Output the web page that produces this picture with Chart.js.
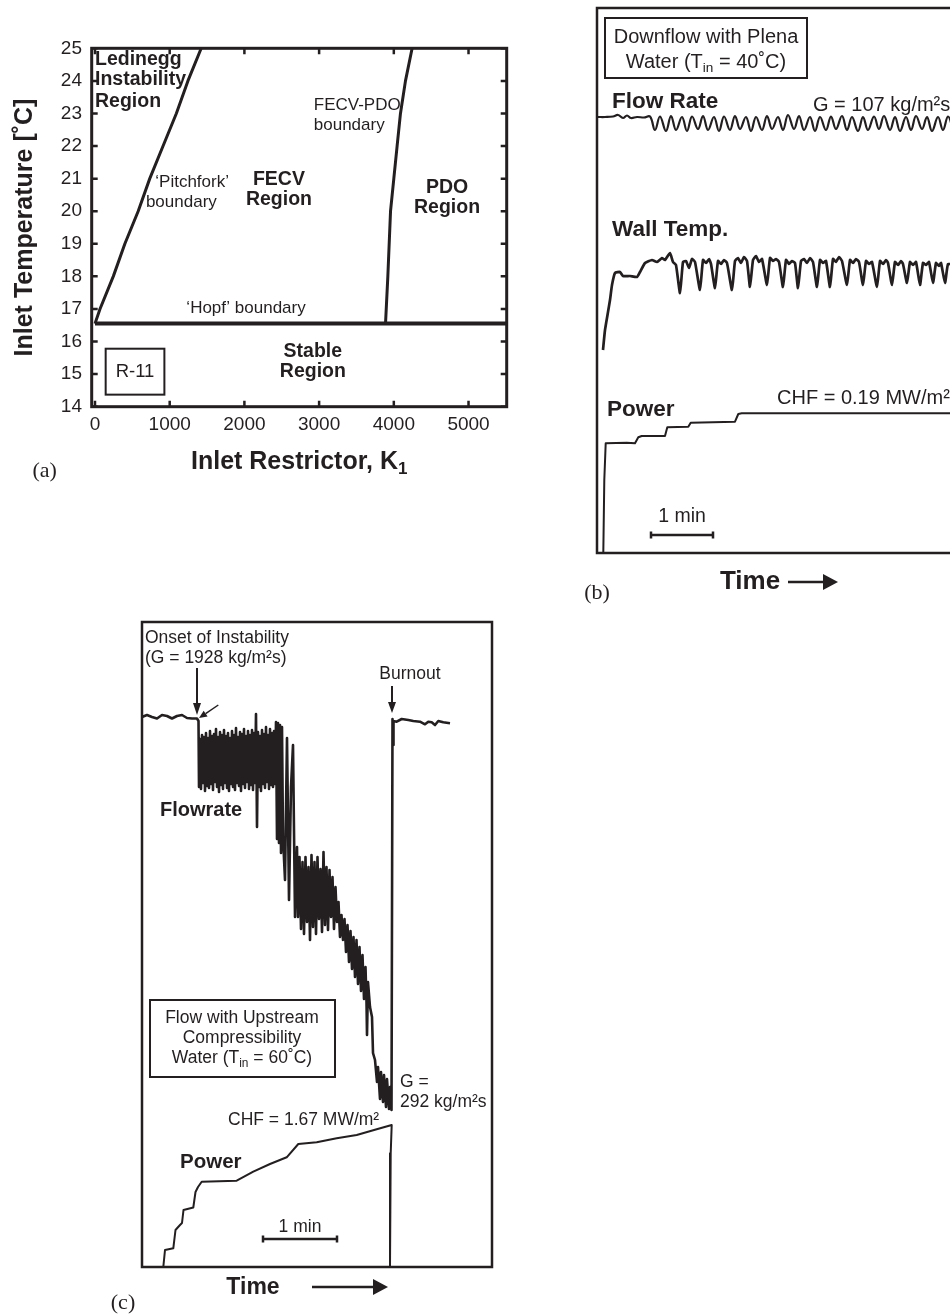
<!DOCTYPE html>
<html>
<head>
<meta charset="utf-8">
<script src="https://cdn.jsdelivr.net/npm/chart.js@4.4.0/dist/chart.umd.min.js"></script>
<style>
  html, body { margin: 0; padding: 0; background: #fff; overflow: hidden; }
  body { width: 950px; height: 1315px; position: relative; }
  canvas { position: absolute; }
  #chartA { left: 0; top: 0; }
  #chartB { left: 560px; top: 0; }
  #chartC { left: 100px; top: 600px; }
</style>
</head>
<body>
<canvas id="chartA" width="540" height="500"></canvas>
<canvas id="chartB" width="390" height="615"></canvas>
<canvas id="chartC" width="400" height="715"></canvas>
<script>
const ink = '#231f20';
const sans = "'Liberation Sans', Arial, Helvetica, sans-serif";
const serif = "'Liberation Serif', 'Times New Roman', serif";
Chart.defaults.font.family = sans;
Chart.defaults.color = ink;

// (a) stability map for R-11: inlet restrictor K1 vs inlet temperature
const kTicks = [0, 1000, 2000, 3000, 4000, 5000];
const tempTicks = [14, 15, 16, 17, 18, 19, 20, 21, 22, 23, 24, 25];
const pitchforkK = [0, 67, 245, 400, 578, 733, 911, 1089, 1244, 1422];
const pitchforkT = [16.55, 17, 18, 19, 20, 21, 22, 23, 24, 25];
const fecvPdoK = [3889, 3920, 3956, 4000, 4044, 4089, 4156, 4245];
const fecvPdoT = [16.55, 18, 20, 21, 22, 23, 24, 25];
const hopfK = [0, 5520];
const hopfT = [16.55, 16.55];

// (b) downflow with plena, water Tin = 40 C: [time, trace level]
const flowRateB = [
  [1, 436], [8, 436], [16, 436.5], [21, 438], [26, 435], [30, 437.5], [34, 435], [40, 436], [47, 435.5], [53, 436.5],
  [58, 423], [63, 436.5], [69, 422], [74, 437], [79, 423], [85, 436], [90, 422], [95, 436.5], [101, 424], [106, 437],
  [111, 423], [117, 436], [122, 422], [127, 436.5], [133, 423], [138, 437], [143, 424], [149, 436], [154, 422], [159, 436],
  [165, 423], [170, 437], [175, 424], [181, 436], [186, 423], [191, 438], [197, 424], [202, 437], [207, 423], [213, 436],
  [218, 422], [223, 436], [229, 423], [234, 436.5], [239, 424], [245, 437], [250, 423], [255, 436], [261, 422], [266, 436],
  [271, 423], [277, 436.5], [282, 424], [287, 437], [293, 423], [298, 436], [303, 422], [309, 436], [314, 423], [319, 437],
  [325, 424], [330, 436], [335, 422], [341, 436], [346, 423], [351, 436.5], [356, 424]
];
const wallTempB = [
  [6, 203], [8, 223], [11, 241], [13, 253], [15, 268], [18, 280], [23, 281], [26, 277], [33, 277], [40, 276],
  [43, 281], [48, 290], [55, 293], [60, 291], [65, 295], [68, 293], [73, 300], [76, 291], [79, 288],
  [83, 260], [86, 291], [89, 292], [92, 285], [95, 294], [98, 291],
  [103, 263], [106, 293], [109, 290], [112, 294], [114, 289],
  [118, 265], [121, 292], [124, 289], [127, 293], [130, 290],
  [135, 263], [138, 292], [141, 295], [144, 290], [147, 296], [150, 292],
  [153, 266], [156, 293], [159, 297], [162, 291], [165, 294],
  [170, 268], [173, 295], [176, 292], [179, 294], [182, 291],
  [186, 266], [189, 293], [192, 289], [195, 292], [198, 290],
  [201, 265], [204, 292], [207, 294], [210, 290], [213, 295], [216, 291],
  [220, 266], [223, 293], [226, 290], [229, 292],
  [233, 266], [236, 294], [239, 291], [242, 296], [245, 292],
  [250, 268], [253, 293], [256, 290], [259, 294], [262, 291],
  [266, 268], [269, 292], [272, 289], [275, 291],
  [280, 266], [283, 292], [286, 289], [289, 293], [291, 290],
  [295, 268], [298, 291], [301, 288], [304, 292], [306, 289],
  [310, 270], [313, 291], [316, 288], [319, 291],
  [323, 268], [326, 290], [329, 288], [332, 291],
  [336, 270], [339, 290], [342, 287], [344, 290],
  [348, 270], [351, 289], [356, 288]
];
const powerB = [
  [6.3, 0], [7.3, 73], [8.7, 109.7], [29.7, 110.3], [38, 109.7], [41.3, 115.7], [44.7, 117], [68, 117],
  [70.3, 125.7], [91.3, 126.3], [93.7, 130.3], [138, 131.3], [141.3, 139], [144.7, 139.7], [356, 139.7]
];

// (c) flow with upstream compressibility, water Tin = 60 C: [time, trace level]
const flowrateC = [
  [0, 550], [5, 552], [10, 550], [15, 548.5], [20, 552], [25, 551], [30, 548.5], [35, 551], [40, 552], [45, 549],
  [50, 548.5], [55, 548.5], [56.5, 546],
  [57, 480], [58, 528], [59, 478], [60, 532], [61, 484], [62, 530], [63, 476], [64, 534], [65, 481], [66, 529],
  [67, 479], [68, 536], [69, 483], [70, 531], [71, 477], [72, 533], [73, 485], [74, 538], [75, 480], [76, 530],
  [77, 475], [78, 535], [79, 482], [80, 532], [81, 478], [82, 537], [83, 484], [84, 531], [85, 479], [86, 534],
  [87, 476], [88, 529], [89, 483], [90, 536], [91, 480], [92, 532], [93, 477], [94, 539], [95, 484], [96, 530],
  [97, 481], [98, 535], [99, 476], [100, 533], [101, 483], [102, 538], [103, 479], [104, 531], [105, 485], [106, 536],
  [107, 478], [108, 532], [109, 482], [110, 537], [111, 477], [112, 534], [113, 484], [114, 553], [115, 440], [116, 535],
  [117, 480], [118, 531], [119, 476], [120, 537], [121, 483], [122, 533], [123, 479], [124, 540], [125, 485], [126, 532],
  [127, 478], [128, 538], [129, 482], [130, 534], [131, 480], [132, 536], [133, 483],
  [134, 545], [135, 428], [136, 544], [137, 424], [138, 542], [139, 414], [140, 540], [141, 430], [143, 387], [145, 529],
  [147, 367], [149, 480], [151, 522], [153, 350], [155, 420],
  [156, 350], [157.5, 410], [159, 338], [160.5, 405], [162, 333], [163.5, 410], [165, 345], [166.5, 400], [168, 327],
  [169.5, 412], [171, 340], [172.5, 405], [174, 333], [175.5, 410], [177, 348], [178.5, 398], [180, 335], [181.5, 415],
  [183, 342], [184.5, 400], [186, 337], [187.5, 397], [189, 350], [190.5, 390], [192, 338], [193.5, 380], [195, 345],
  [196.5, 365], [198, 330], [199.5, 352], [201, 327], [202.5, 348], [204, 315], [205.5, 342], [207, 305], [208.5, 336],
  [210, 298], [211.5, 330], [213, 290], [214.5, 327], [216, 283], [217.5, 320], [219, 276], [220.5, 312], [222, 268],
  [223.5, 300], [224.5, 265], [225, 232], [226, 285], [228, 260], [230, 250], [231, 214], [233, 207],
  [235, 185], [236, 200], [238, 168], [239, 195], [241, 165], [242, 192], [244, 160], [245, 188], [247, 158], [248, 180],
  [249.5, 157],
  [250.5, 548], [251, 522], [251.5, 546], [254.7, 545.3], [259.7, 548], [266.3, 547], [271.3, 546], [278, 545.3],
  [283, 542.7], [286.3, 545.3], [289.7, 544.7], [293, 542], [296.3, 546], [301.3, 544.7], [308, 543.7]
];
const powerC = [
  [21.3, 0], [23, 17], [31.3, 18.7], [33.5, 37], [38, 42], [40, 44], [41.5, 57], [51.3, 59.5], [53.5, 75], [56, 80],
  [59.7, 85.3], [94.7, 86.3], [111.3, 95.3], [128, 103], [144.7, 109.7], [156.3, 123], [174.7, 124.7], [194.7, 128.7],
  [214.7, 132], [234.7, 137.7], [249.7, 142], [248.7, 113.7], [248, 0]
];

const pts = (xs, ys) => xs.map((x, i) => ({ x, y: ys[i] }));
const xy = arr => arr.map(([x, y]) => ({ x, y }));

function trace(data, width, tension) {
  return { data, showLine: true, borderColor: ink, borderWidth: width, pointRadius: 0, tension: tension || 0, borderJoinStyle: 'round' };
}

// text run with optional subscripts, e.g. ['Water (T', {t: 'in', sub: true}, ' = 40˚C)']
function rich(ctx, parts, x, y, size, weight, align, family) {
  const fam = family || sans;
  const items = parts.map(p => (typeof p === 'string' ? { t: p } : p));
  let w = 0;
  items.forEach(it => {
    it.size = it.sub ? size * 0.68 : size;
    ctx.font = `${weight} ${it.size}px ${fam}`;
    it.w = ctx.measureText(it.t).width;
    w += it.w;
  });
  let cx = align === 'center' ? x - w / 2 : align === 'right' ? x - w : x;
  ctx.textAlign = 'left';
  ctx.textBaseline = 'middle';
  items.forEach(it => {
    ctx.font = `${weight} ${it.size}px ${fam}`;
    ctx.fillText(it.t, cx, y + (it.sub ? size * 0.3 : 0));
    cx += it.w;
  });
}

function arrow(ctx, x1, y1, x2, y2, len, half, width) {
  const ang = Math.atan2(y2 - y1, x2 - x1);
  const bx = x2 - len * Math.cos(ang), by = y2 - len * Math.sin(ang);
  ctx.lineWidth = width;
  ctx.beginPath();
  ctx.moveTo(x1, y1);
  ctx.lineTo(bx, by);
  ctx.stroke();
  ctx.beginPath();
  ctx.moveTo(x2, y2);
  ctx.lineTo(bx + half * Math.sin(ang), by - half * Math.cos(ang));
  ctx.lineTo(bx - half * Math.sin(ang), by + half * Math.cos(ang));
  ctx.closePath();
  ctx.fill();
}

function scaleBar(ctx, x1, x2, y) {
  ctx.lineWidth = 2.5;
  ctx.beginPath();
  ctx.moveTo(x1, y); ctx.lineTo(x2, y);
  ctx.moveTo(x1, y - 3.5); ctx.lineTo(x1, y + 3.5);
  ctx.moveTo(x2, y - 3.5); ctx.lineTo(x2, y + 3.5);
  ctx.stroke();
}

const baseOptions = {
  responsive: false,
  animation: false,
  events: [],
  plugins: { legend: { display: false }, tooltip: { enabled: false } }
};

// frame, inward ticks and region labels for (a)
const panelA = {
  id: 'panelA',
  afterDraw(chart) {
    const { ctx, chartArea: a, scales: { x, y } } = chart;
    const X = v => x.getPixelForValue(v), Y = v => y.getPixelForValue(v);
    ctx.save();
    ctx.strokeStyle = ink;
    ctx.fillStyle = ink;
    ctx.lineWidth = 2.5;
    ctx.beginPath();
    kTicks.forEach(v => {
      ctx.moveTo(X(v), a.bottom); ctx.lineTo(X(v), a.bottom - 6);
      ctx.moveTo(X(v), a.top); ctx.lineTo(X(v), a.top + 6);
    });
    tempTicks.forEach(v => {
      ctx.moveTo(a.left, Y(v)); ctx.lineTo(a.left + 6, Y(v));
      ctx.moveTo(a.right, Y(v)); ctx.lineTo(a.right - 6, Y(v));
    });
    ctx.stroke();
    ctx.lineWidth = 3;
    ctx.strokeRect(a.left, a.top, a.width, a.height);

    const b = 19.5, n = 17;
    rich(ctx, ['Ledinegg'], X(0), Y(24.64), b, 'bold', 'left');
    rich(ctx, ['Instability'], X(0), Y(24.03), b, 'bold', 'left');
    rich(ctx, ['Region'], X(0), Y(23.36), b, 'bold', 'left');
    rich(ctx, ['\u2018Pitchfork\u2019'], X(1300), Y(20.9), n, 'normal', 'center');
    rich(ctx, ['boundary'], X(1156), Y(20.28), n, 'normal', 'center');
    rich(ctx, ['FECV'], X(2462), Y(20.96), b, 'bold', 'center');
    rich(ctx, ['Region'], X(2462), Y(20.35), b, 'bold', 'center');
    rich(ctx, ['FECV-PDO'], X(2929), Y(23.26), n, 'normal', 'left');
    rich(ctx, ['boundary'], X(2929), Y(22.64), n, 'normal', 'left');
    rich(ctx, ['PDO'], X(4712), Y(20.71), b, 'bold', 'center');
    rich(ctx, ['Region'], X(4712), Y(20.1), b, 'bold', 'center');
    rich(ctx, ['\u2018Hopf\u2019 boundary'], X(2022), Y(17.03), n, 'normal', 'center');
    rich(ctx, ['Stable'], X(2916), Y(15.69), b, 'bold', 'center');
    rich(ctx, ['Region'], X(2916), Y(15.07), b, 'bold', 'center');
    ctx.lineWidth = 2;
    ctx.strokeRect(X(143), Y(15.78), X(929) - X(143), Y(14.37) - Y(15.78));
    rich(ctx, ['R-11'], X(536), Y(15.08), 18.5, 'normal', 'center');

    rich(ctx, ['Inlet Restrictor, K', { t: '1', sub: true }], (a.left + a.right) / 2, a.bottom + 55, 25, 'bold', 'center');
    rich(ctx, ['(a)'], a.left - 47, a.bottom + 65, 22, 'normal', 'center', serif);
    ctx.restore();
  }
};

new Chart(document.getElementById('chartA'), {
  type: 'scatter',
  data: {
    datasets: [
      trace(pts(pitchforkK, pitchforkT), 3),
      trace(pts(fecvPdoK, fecvPdoT), 3),
      trace(pts(hopfK, hopfT), 4)
    ]
  },
  options: {
    ...baseOptions,
    layout: { padding: { left: 0, top: 48.3, right: 33.3, bottom: 0 } },
    scales: {
      x: {
        type: 'linear', min: -44, max: 5511,
        afterBuildTicks: s => { s.ticks = kTicks.map(v => ({ value: v })); },
        afterFit: s => { s.height = 93.3; },
        grid: { display: false, drawTicks: false },
        border: { display: false },
        ticks: { padding: 7, color: ink, font: { size: 19 }, callback: v => String(v) }
      },
      y: {
        type: 'linear', min: 14, max: 25,
        afterBuildTicks: s => { s.ticks = tempTicks.map(v => ({ value: v })); },
        afterFit: s => { s.width = 91.7; },
        grid: { display: false, drawTicks: false },
        border: { display: false },
        ticks: { padding: 9.7, color: ink, font: { size: 19 }, callback: v => String(v) },
        title: { display: true, text: 'Inlet Temperature [\u02DAC]', color: ink, font: { size: 25, weight: 'bold' }, padding: { top: 10.5, bottom: 0 } }
      }
    }
  },
  plugins: [panelA]
});

// open frame and annotations for (b)
const panelB = {
  id: 'panelB',
  afterDraw(chart) {
    const { ctx, chartArea: a, scales: { x, y } } = chart;
    const X = v => x.getPixelForValue(v), Y = v => y.getPixelForValue(v);
    ctx.save();
    ctx.strokeStyle = ink;
    ctx.fillStyle = ink;
    ctx.lineWidth = 2.5;
    ctx.beginPath();
    ctx.moveTo(chart.width, a.top);
    ctx.lineTo(a.left, a.top);
    ctx.lineTo(a.left, a.bottom);
    ctx.lineTo(chart.width, a.bottom);
    ctx.stroke();

    ctx.lineWidth = 2;
    ctx.strokeRect(X(8), Y(535), X(210) - X(8), Y(475) - Y(535));
    rich(ctx, ['Downflow with Plena'], X(109), Y(516), 20, 'normal', 'center');
    rich(ctx, ['Water (T', { t: 'in', sub: true }, ' = 40\u02DAC)'], X(109), Y(491), 20, 'normal', 'center');
    rich(ctx, ['Flow Rate'], X(15), Y(451), 22.5, 'bold', 'left');
    rich(ctx, ['G = 107 kg/m\u00B2s'], X(216), Y(448), 20, 'normal', 'left');
    rich(ctx, ['Wall Temp.'], X(15), Y(323), 22.5, 'bold', 'left');
    rich(ctx, ['Power'], X(10), Y(143), 22.5, 'bold', 'left');
    rich(ctx, ['CHF = 0.19 MW/m\u00B2'], X(180), Y(155), 20, 'normal', 'left');
    scaleBar(ctx, X(54), X(116), Y(18));
    rich(ctx, ['1 min'], X(85), Y(36), 19.5, 'normal', 'center');

    rich(ctx, ['Time'], a.left + 153, a.bottom + 29, 26, 'bold', 'center');
    arrow(ctx, a.left + 191, a.bottom + 29, a.left + 241, a.bottom + 29, 15, 8, 2.5);
    rich(ctx, ['(b)'], a.left, a.bottom + 40, 22, 'normal', 'center', serif);
    ctx.restore();
  }
};

new Chart(document.getElementById('chartB'), {
  type: 'scatter',
  data: {
    datasets: [
      trace(xy(flowRateB), 2.2, 0.4),
      trace(xy(wallTempB), 2.7, 0.15),
      trace(xy(powerB), 2)
    ]
  },
  options: {
    ...baseOptions,
    layout: { padding: { left: 37, top: 8, right: 0, bottom: 62 } },
    scales: {
      x: { type: 'linear', min: 0, max: 353, display: false },
      y: { type: 'linear', min: 0, max: 545, display: false }
    }
  },
  plugins: [panelB]
});

// frame and annotations for (c)
const panelC = {
  id: 'panelC',
  afterDraw(chart) {
    const { ctx, chartArea: a, scales: { x, y } } = chart;
    const X = v => x.getPixelForValue(v), Y = v => y.getPixelForValue(v);
    ctx.save();
    ctx.strokeStyle = ink;
    ctx.fillStyle = ink;
    ctx.lineWidth = 2.5;
    ctx.strokeRect(a.left, a.top, a.width, a.height);

    const n = 17.5;
    rich(ctx, ['Onset of Instability'], X(3), Y(629), n, 'normal', 'left');
    rich(ctx, ['(G = 1928 kg/m\u00B2s)'], X(3), Y(609), n, 'normal', 'left');
    arrow(ctx, X(55), Y(599), X(55), Y(552), 12, 4, 2);
    rich(ctx, ['Burnout'], X(268), Y(593), n, 'normal', 'center');
    arrow(ctx, X(250), Y(581), X(250), Y(554), 11, 4, 2);
    arrow(ctx, X(76.3), Y(562), X(57), Y(549), 8, 3.5, 1.5);
    rich(ctx, ['Flowrate'], X(18), Y(457), 20, 'bold', 'left');

    ctx.lineWidth = 2;
    ctx.strokeRect(X(8), Y(267), X(193) - X(8), Y(190) - Y(267));
    rich(ctx, ['Flow with Upstream'], X(100), Y(249), n, 'normal', 'center');
    rich(ctx, ['Compressibility'], X(100), Y(229), n, 'normal', 'center');
    rich(ctx, ['Water (T', { t: 'in', sub: true }, ' = 60\u02DAC)'], X(100), Y(209), n, 'normal', 'center');
    rich(ctx, ['G ='], X(258), Y(185), n, 'normal', 'left');
    rich(ctx, ['292 kg/m\u00B2s'], X(258), Y(165), n, 'normal', 'left');
    rich(ctx, ['CHF = 1.67 MW/m\u00B2'], X(86), Y(147), n, 'normal', 'left');
    rich(ctx, ['Power'], X(38), Y(105), 20.5, 'bold', 'left');
    scaleBar(ctx, X(121), X(195), Y(28));
    rich(ctx, ['1 min'], X(158), Y(40), n, 'normal', 'center');

    rich(ctx, ['Time'], a.left + 111, a.bottom + 21, 23, 'bold', 'center');
    arrow(ctx, a.left + 170, a.bottom + 20, a.left + 246, a.bottom + 20, 15, 8, 2.5);
    rich(ctx, ['(c)'], a.left - 19, a.bottom + 36, 22, 'normal', 'center', serif);
    ctx.restore();
  }
};

new Chart(document.getElementById('chartC'), {
  type: 'scatter',
  data: {
    datasets: [
      trace(xy(flowrateC), 2.6),
      trace(xy(powerC), 2)
    ]
  },
  options: {
    ...baseOptions,
    layout: { padding: { left: 42, top: 22, right: 8, bottom: 48 } },
    scales: {
      x: { type: 'linear', min: 0, max: 350, display: false },
      y: { type: 'linear', min: 0, max: 645, display: false }
    }
  },
  plugins: [panelC]
});
</script>
</body>
</html>
